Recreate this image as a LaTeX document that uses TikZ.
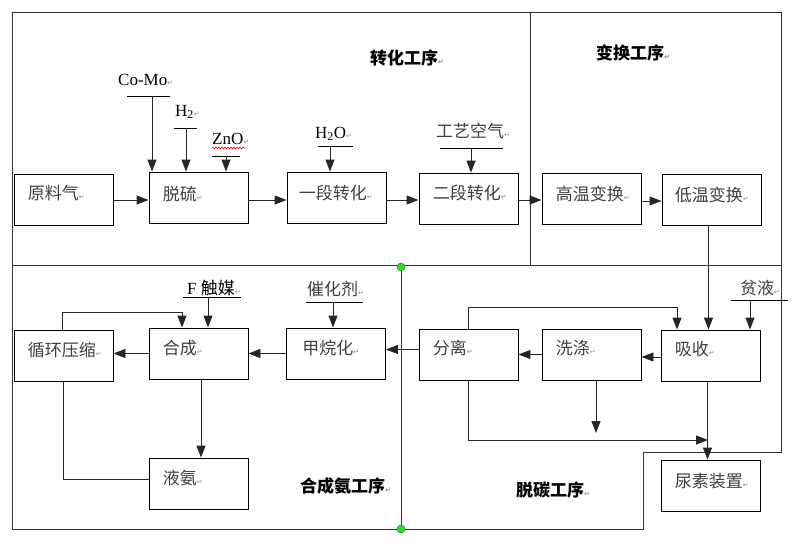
\documentclass[tikz,border=0pt]{standalone}
\usepackage{fontspec}
\setmainfont{Liberation Serif}
\newfontfamily\cjk{Noto Sans CJK SC}
\newfontfamily\djv{DejaVu Sans}
\usetikzlibrary{arrows.meta,decorations.pathmorphing,calc}
\newcommand{\crm}{{\djv\fontsize{7}{7}\selectfont\color{black!45}↵}}
\definecolor{handle}{RGB}{40,225,40}
\begin{document}
\begin{tikzpicture}[x=1pt,y=-1pt,
  frame/.style={draw=black!80, line width=1pt},
  box/.style={draw=black, line width=0.9pt, minimum width=99pt, minimum height=51pt, inner sep=0pt},
  btxt/.style={font=\cjk\fontsize{17}{18}\selectfont, text=black!75, inner sep=0pt, anchor=west},
  sect/.style={font=\cjk\bfseries\fontsize{17}{18}\selectfont, inner sep=0pt, anchor=west},
  lat/.style={font=\fontsize{17}{18}\selectfont, inner sep=0pt, anchor=west},
  conn/.style={draw=black!85, line width=0.9pt},
  arr/.style={conn, -{Triangle[length=12pt,width=9pt]}},
  uline/.style={draw=black, line width=0.9pt},
]
\useasboundingbox (0,0) rectangle (811,551);
\fill[white] (0,0) rectangle (811,551);

% frame of the sections
\draw[frame] (12,13) -- (781,13) -- (781,452) -- (643,452) -- (643,529) -- (12,529) -- cycle;
\draw[frame] (12,265) -- (781,265);
\draw[frame] (530,13) -- (530,265);
\draw[frame] (401,267) -- (401,529);

% boxes
\node[box] (yuan)    at (63.5,199.5) {};
\node[box] (tuoliu)  at (198.5,197.5) {};
\node[box] (yiduan)  at (336.5,197.5) {};
\node[box] (erduan)  at (468.5,198.5) {};
\node[box] (gaowen)  at (591.5,198.5) {};
\node[box] (diwen)   at (711.5,199.5) {};
\node[box] (xunhuan) at (63.5,355.5) {};
\node[box] (hecheng) at (198.5,353.5) {};
\node[box] (jiawan)  at (336,353.5) {};
\node[box] (yean)    at (198.5,483.5) {};
\node[box] (fenli)   at (468.5,354.5) {};
\node[box] (xidi)    at (591.5,354.5) {};
\node[box] (xishou)  at (710.5,355.5) {};
\node[box] (niaosu)  at (710.5,485.5) {};

% box texts
\node[btxt] (yuan-t)    at ([xshift=14pt,yshift=6pt]yuan.west) {原料气\crm};
\node[btxt] (tuoliu-t)  at ([xshift=14pt,yshift=4pt]tuoliu.west) {脱硫\crm};
\node[btxt] (yiduan-t)  at ([xshift=12pt,yshift=4pt]yiduan.west) {一段转化\crm};
\node[btxt] (erduan-t)  at ([xshift=14pt,yshift=5pt]erduan.west) {二段转化\crm};
\node[btxt] (gaowen-t)  at ([xshift=14pt,yshift=5pt]gaowen.west) {高温变换\crm};
\node[btxt] (diwen-t)   at ([xshift=13pt,yshift=5pt]diwen.west) {低温变换\crm};
\node[btxt] (xunhuan-t) at ([xshift=14pt,yshift=5pt]xunhuan.west) {循环压缩\crm};
\node[btxt] (hecheng-t) at ([xshift=14pt,yshift=5pt]hecheng.west) {合成\crm};
\node[btxt] (jiawan-t)  at ([xshift=16pt,yshift=5pt]jiawan.west) {甲烷化\crm};
\node[btxt] (yean-t)    at ([xshift=14pt,yshift=5pt]yean.west) {液氨\crm};
\node[btxt] (fenli-t)   at ([xshift=14pt,yshift=6pt]fenli.west) {分离\crm};
\node[btxt] (xidi-t)    at ([xshift=14pt,yshift=6pt]xidi.west) {洗涤\crm};
\node[btxt] (xishou-t)  at ([xshift=14pt,yshift=6pt]xishou.west) {吸收\crm};
\node[btxt] (niaosu-t)  at ([xshift=14pt,yshift=4pt]niaosu.west) {尿素装置\crm};

% section titles
\node[sect] (s1) at (370,58) {转化工序\crm};
\node[sect] (s2) at (596,53) {变换工序\crm};
\node[sect] (s3) at (300,486) {合成氨工序\crm};
\node[sect] (s4) at (516,490) {脱碳工序\crm};

% feed labels
\node[lat] (como) at (118,80) {Co-Mo\crm};
\node[lat] (hq)   at (175,112) {H\textsubscript{2}\crm};
\node[lat] (zno)  at (212,139) {ZnO\crm};
\node[lat] (hqo)  at (315,134) {H\textsubscript{2}O\crm};
\node[btxt] (air) at (436,131) {工艺空气\crm};
\node[lat] (fcat) at (187,288) {F {\cjk 触媒}\crm};
\node[btxt] (cat) at (307,289) {催化剂\crm};
\node[btxt] (pin) at (740,288) {贫液\crm};
\draw[red, line width=0.6pt, decorate, decoration={snake, amplitude=1pt, segment length=3pt}] (212,148) -- (245,148);

% feed lines
\coordinate (comoA) at (152,96);
\coordinate (hqA)   at (186,128);
\coordinate (znoA)  at (226,156);
\coordinate (hqoA)  at (330,146);
\coordinate (airA)  at (471,148);
\coordinate (fcatA) at (208,297);
\coordinate (catA)  at (333,302);
\coordinate (pinA)  at (750,300);
\draw[uline] (127,96) -- (170,96);
\draw[uline] (174,128) -- (197,128);
\draw[uline] (212,156) -- (240,156);
\draw[uline] (318,146) -- (353,146);
\draw[uline] (440,148) -- (503,148);
\draw[uline] (183,297) -- (241,297);
\draw[uline] (306,302) -- (363,302);
\draw[uline] (731,300) -- (788,300);
\draw[arr] (comoA) -- (comoA |- tuoliu.north);
\draw[arr] (hqA) -- (hqA |- tuoliu.north);
\draw[arr] (znoA) -- (znoA |- tuoliu.north);
\draw[arr] (hqoA) -- (hqoA |- yiduan.north);
\draw[arr] (airA) -- (airA |- erduan.north);
\draw[arr] (fcatA) -- (fcatA |- hecheng.north);
\draw[arr] (catA) -- (catA |- jiawan.north);
\draw[arr] (pinA) -- (pinA |- xishou.north);

% top row flow
\draw[arr] (yuan.east |- 0,200) -- (tuoliu.west |- 0,200);
\draw[arr] (tuoliu.east |- 0,200) -- (yiduan.west |- 0,200);
\draw[arr] (yiduan.east |- 0,200) -- (erduan.west |- 0,200);
\draw[arr] (erduan.east |- 0,200) -- (gaowen.west |- 0,200);
\draw[arr] (gaowen.east |- 0,201) -- (diwen.west |- 0,201);
\draw[arr] ([xshift=-3pt]diwen.south) -- ([xshift=-3pt]diwen.south |- xishou.north);

% bottom flow
\draw[arr] ([yshift=-1.5pt]xishou.west) -- ([yshift=-1.5pt]xishou.west -| xidi.east);
\draw[arr] (xidi.west) -- (xidi.west -| fenli.east);
\draw[arr] ([yshift=5pt]fenli.west) -- ([yshift=5pt]fenli.west -| jiawan.east);
\draw[arr] (jiawan.west) -- (jiawan.west -| hecheng.east);
\draw[arr] (hecheng.west) -- (hecheng.west -| xunhuan.east);
\draw[arr] ([xshift=2.5pt]hecheng.south) -- ([xshift=2.5pt]yean.north);
\coordinate (c1) at (182,312);
\draw[arr] ([xshift=-1.5pt]xunhuan.north) |- (c1) -- (c1 |- hecheng.north);
\draw[conn] (xunhuan.south) |- ([yshift=4.5pt]yean.west);
\coordinate (c2) at (677,307);
\draw[arr] (fenli.north) |- (c2) -- (c2 |- xishou.north);
\coordinate (c3) at (596,433);
\draw[arr] (c3 |- xidi.south) -- (c3);
\coordinate (c4) at (708,440);
\draw[arr] (fenli.south) |- (c4);
\draw[arr] ([xshift=-3pt]xishou.south) -- ([xshift=-3pt]niaosu.north);

% selection handles
\draw[fill=handle, draw=green!50!black, line width=0.4pt] (401,267) circle (4pt);
\draw[fill=handle, draw=green!50!black, line width=0.4pt] (401,529) circle (4pt);
\end{tikzpicture}
\end{document}
